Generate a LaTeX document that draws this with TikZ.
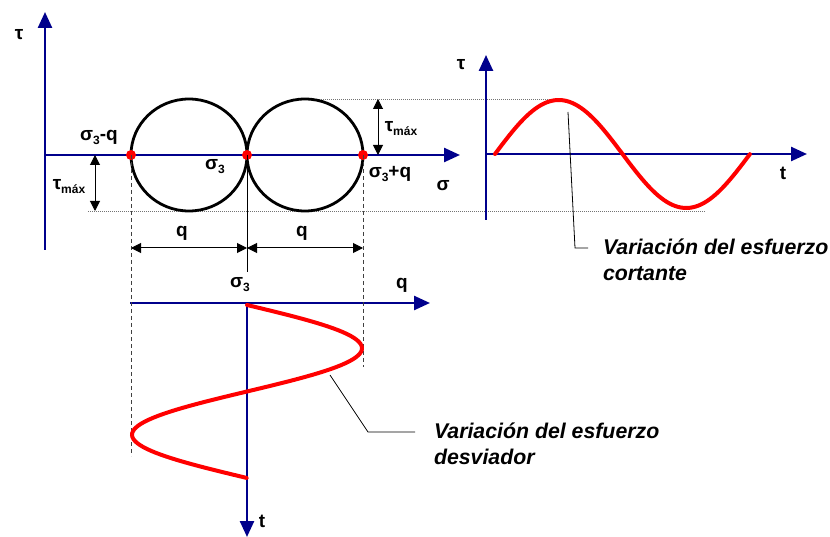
\documentclass[tikz,border=0pt]{standalone}
\usepackage{fontspec}
\setmainfont{Liberation Sans}
\usetikzlibrary{arrows.meta}
\definecolor{axisblue}{RGB}{0,0,140}
\definecolor{wavered}{RGB}{255,0,0}
\newcommand{\lowsub}[1]{\raisebox{-0.4ex}{\fontsize{12}{12}\selectfont #1}}

\begin{document}
\begin{tikzpicture}[x=1pt,y=-1pt,
  every node/.style={font=\fontsize{19}{21}\selectfont\bfseries, inner sep=0pt, outer sep=0pt},
  axis/.style={draw=axisblue, line width=2.5pt, -{Triangle[length=16pt,width=14pt]}},
  mohr/.style={draw=black, line width=2.8pt},
  wave/.style={draw=wavered, line width=4pt, line cap=round},
  reddot/.style={circle, fill=wavered, minimum size=10pt},
  dim/.style={draw=black, line width=1pt, {Triangle[length=10pt,width=10pt]}-{Triangle[length=10pt,width=10pt]}},
  guide/.style={draw=black!75, line width=0.8pt, dash pattern=on 4pt off 3pt},
  level/.style={draw=black!55, line width=0.7pt, dash pattern=on 1pt off 1pt},
  leader/.style={draw=black, line width=0.8pt},
  note/.style={font=\fontsize{21.3}{26}\selectfont\bfseries\itshape, align=left, anchor=north west}]
\useasboundingbox (0,0) rectangle (830,537);

\coordinate (bot1) at (45,250);
\coordinate (tau1) at (45,12);
\coordinate (o1) at (45,155);
\coordinate (sig1) at (460,155);
\coordinate (o2) at (486,154);
\coordinate (bot2) at (486,220);
\coordinate (tau2) at (486,55);
\coordinate (t2) at (807,154);
\coordinate (o3) at (247,303);
\coordinate (left3) at (130,303);
\coordinate (q3) at (430,303);
\coordinate (t3) at (247,537);

\draw[level] (305,99) coordinate (up1) -- (563,99) coordinate (up2);
\draw[level] (88,211) coordinate (lo1) -- (705,211) coordinate (lo2);

\draw[mohr] (189,155) circle [x radius=58pt, y radius=56pt];
\draw[mohr] (305,155) circle [x radius=58pt, y radius=56pt];

\draw[axis] (bot1) -- (tau1);
\draw[axis] (o1) -- (sig1);
\draw[axis] (bot2) -- (tau2);
\draw[axis] (o2) -- (t2);
\draw[axis] (left3) -- (q3);
\draw[axis] (o3) -- (t3);

\node[reddot] (a) at (131,155) {};
\node[reddot] (b) at (247,155) {};
\node[reddot] (c) at (363,155) {};

\coordinate (aend) at (131,456);
\coordinate (bend) at (247,272);
\coordinate (cend) at (363,367);
\draw[guide] (a.center) -- (aend);
\draw[guide] (c.center) -- (cend);
\draw[leader] (b.center) -- (bend);

\coordinate (qa) at (131,248);
\coordinate (qb) at (247,248);
\coordinate (qc) at (363,248);
\draw[dim] (qa) -- (qb);
\draw[dim] (qb) -- (qc);
\draw[dim] (95,155) coordinate (ta1) -- (95,211) coordinate (ta2);
\draw[dim] (378,99) coordinate (tb1) -- (378,155) coordinate (tb2);

\draw[wave] plot[domain=0:1, samples=90] ({495+255*\x},{154-54*sin(360*\x)});
\draw[wave] plot[domain=0:1, samples=90] ({247+115*sin(360*\x)},{305+173*\x});

\node (tau1l) at (19,35) {τ};
\node (sminus) at (99,137) {σ\lowsub{3}-q};
\node (s3) at (215,167) {σ\lowsub{3}};
\node (splus) at (390,174) {σ\lowsub{3}+q};
\node (sigl) at (443,186) {σ};
\node (tmax1) at (69,187) {τ\lowsub{máx}};
\node (tmax2) at (401,129) {τ\lowsub{máx}};
\node (qleft) at (182,233) {q};
\node (qright) at (302,233) {q};
\node (s3b) at (240,285) {σ\lowsub{3}};
\node (qbl) at (402,285) {q};
\node (tbl) at (262,521) {t};
\node (tau2l) at (461,65) {τ};
\node (t2l) at (783,173) {t};

\coordinate (k1) at (568,112);
\coordinate (k2) at (575,248);
\coordinate (k3) at (588,248);
\draw[leader] (k1) -- (k2) -- (k3);
\node[note] (cortante) at (603,239) {Variación del esfuerzo\\cortante};

\coordinate (m1) at (330,375);
\coordinate (m2) at (368,432);
\coordinate (m3) at (415,432);
\draw[leader] (m1) -- (m2) -- (m3);
\node[note] (desviador) at (434,423) {Variación del esfuerzo\\desviador};
\end{tikzpicture}
\end{document}
